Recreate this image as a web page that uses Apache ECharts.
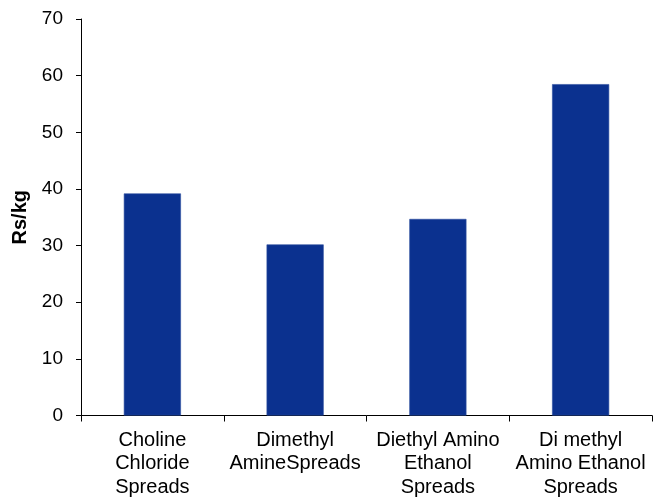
<!DOCTYPE html>
<html>
<head>
<meta charset="utf-8">
<script src="https://cdn.jsdelivr.net/npm/echarts@6/dist/echarts.min.js"></script>
<style>
  html, body { margin: 0; padding: 0; background: #fff; }
  #chart { width: 666px; height: 499px; }
</style>
</head>
<body>
<div id="chart"></div>
<script>
// Cost per kilogram of each spread formulation
const categories = [
  'Choline\nChloride\nSpreads',
  'Dimethyl\nAmineSpreads',
  'Diethyl Amino\nEthanol\nSpreads',
  'Di methyl\nAmino Ethanol\nSpreads'
];
const costPerKg = [39.2, 30.2, 34.7, 58.5];
const yAxisName = 'Rs/kg';

const font = 'Liberation Sans, Arial, sans-serif';
const chart = echarts.init(document.getElementById('chart'), null, { renderer: 'canvas' });

chart.setOption({
  animation: false,
  grid: { left: 81, right: 14, top: 19, bottom: 80, containLabel: false },
  xAxis: {
    type: 'category',
    data: categories,
    axisLine: { lineStyle: { color: '#000', width: 1 } },
    axisTick: { show: true, alignWithLabel: false, length: 6, lineStyle: { color: '#000' } },
    axisLabel: {
      color: '#000', fontFamily: font, fontSize: 20, lineHeight: 23.5,
      margin: 13, interval: 0
    }
  },
  yAxis: {
    type: 'value',
    min: 0, max: 70, interval: 10,
    name: yAxisName,
    nameLocation: 'middle',
    nameGap: 46,
    nameTextStyle: { color: '#000', fontFamily: font, fontSize: 20, fontWeight: 'bold' },
    splitLine: { show: false },
    axisLine: { show: true, lineStyle: { color: '#000', width: 1 } },
    axisTick: { show: true, length: 5, lineStyle: { color: '#000' } },
    axisLabel: { color: '#000', fontFamily: font, fontSize: 19, margin: 18 }
  },
  series: [{
    type: 'bar',
    data: costPerKg,
    barCategoryGap: '60%',
    itemStyle: { color: '#0B318F', borderColor: '#2E4FA0', borderWidth: 0.6 }
  }]
});
</script>
</body>
</html>
